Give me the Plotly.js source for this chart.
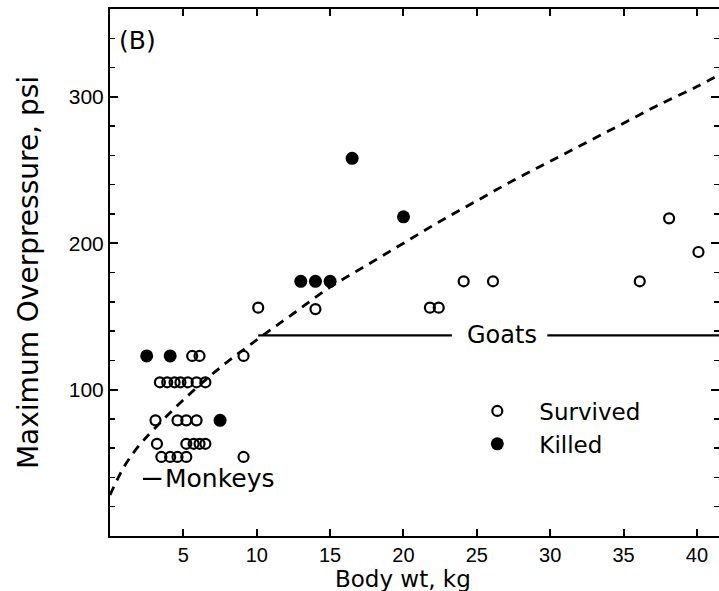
<!DOCTYPE html>
<html>
<head>
<meta charset="utf-8">
<script src="https://cdn.plot.ly/plotly-3.0.1.min.js"></script>
<style>html,body{margin:0;padding:0;background:#fff;}#chart{width:719px;height:591px;}</style>
</head>
<body>
<div id="chart"></div>
<script>
// Survived (open circles)
const survivedX = [5.6, 6.1, 9.1,
  3.4, 3.9, 4.4, 4.8, 5.3, 5.9, 6.5,
  3.1, 4.6, 5.2, 5.9,
  3.2, 5.2, 5.7, 6.1, 6.5,
  3.5, 4.1, 4.6, 5.2, 9.1,
  10.1, 14.0, 21.8, 22.4, 24.1, 26.1, 36.1, 38.1, 40.1];
const survivedY = [123, 123, 123,
  105, 105, 105, 105, 105, 105, 105,
  79, 79, 79, 79,
  63, 63, 63, 63, 63,
  54, 54, 54, 54, 54,
  156, 155, 156, 156, 174, 174, 174, 217, 194];
// Killed (filled circles)
const killedX = [2.5, 4.1, 7.5, 13.0, 14.0, 15.0, 16.5, 20.0];
const killedY = [123, 123, 79, 174, 174, 174, 258, 218];
// Dashed threshold curve
const curveX = [0, 1, 2, 3, 5, 7.5, 10, 12.5, 15, 17.5, 20, 22.5, 25, 27.5, 30, 32.5, 35, 37.5, 40, 41.5];
const curveY = [28, 48, 62, 73, 93, 115, 134, 152, 170, 185, 200, 215, 229, 243, 256, 269, 282, 295, 307, 315];
// Goats / Monkeys range bars
const goatsLeftX = [10.1, 23.3];
const goatsRightX = [29.8, 41.5];
const goatsY = [137, 137];
const monkeysX = [2.25, 3.5];
const monkeysY = [39, 39];
// Ticks
const xTickVals = [5, 10, 15, 20, 25, 30, 35, 40];
const xTickText = ['5', '10', '15', '20', '25', '30', '35', '40'];
const yTickVals = [100, 200, 300];
const yTickText = ['100', '200', '300'];

const TFONT = 'Liberation Sans, Arial, sans-serif';
const LFONT = 'DejaVu Sans, sans-serif';

const traces = [
  {x: curveX, y: curveY, mode: 'lines', type: 'scatter', line: {color: '#000', width: 2.8, dash: '9px,7px', shape: 'spline'}, showlegend: false, hoverinfo: 'skip'},
  {x: goatsLeftX, y: goatsY, mode: 'lines', type: 'scatter', line: {color: '#000', width: 2.2}, showlegend: false},
  {x: goatsRightX, y: goatsY, mode: 'lines', type: 'scatter', line: {color: '#000', width: 2.2}, showlegend: false},
  {x: monkeysX, y: monkeysY, mode: 'lines', type: 'scatter', line: {color: '#000', width: 2.2}, showlegend: false},
  {x: survivedX, y: survivedY, mode: 'markers', type: 'scatter', name: 'Survived',
   marker: {symbol: 'circle-open', size: 10, color: '#000', line: {width: 2.2, color: '#000'}}},
  {x: killedX, y: killedY, mode: 'markers', type: 'scatter', name: 'Killed',
   marker: {symbol: 'circle', size: 13, color: '#000'}}
];

const layout = {
  width: 719, height: 591,
  margin: {l: 110, r: 0, t: 9, b: 55},
  paper_bgcolor: '#fff', plot_bgcolor: '#fff',
  font: {family: LFONT, color: '#000', size: 20},
  showlegend: true,
  legend: {x: 0.567, y: 0.278, xanchor: 'left', yanchor: 'top', bgcolor: 'rgba(0,0,0,0)', font: {size: 23, family: LFONT}, itemwidth: 74, tracegroupgap: 0},
  xaxis: {
    range: [0, 41.5], tickmode: 'array', tickvals: xTickVals, ticktext: xTickText,
    ticks: 'inside', ticklen: 7, tickwidth: 2, tickcolor: '#000',
    showline: true, linecolor: '#000', linewidth: 2, mirror: 'ticks',
    showgrid: false, zeroline: false,
    tickfont: {size: 20, family: TFONT}
  },
  yaxis: {
    range: [0, 360], tickmode: 'array', tickvals: yTickVals, ticktext: yTickText,
    ticks: 'inside', ticklen: 8, tickwidth: 2, tickcolor: '#000',
    showline: true, linecolor: '#000', linewidth: 2, mirror: 'ticks',
    showgrid: false, zeroline: false,
    minor: {tickmode: 'linear', tick0: 0, dtick: 20, ticks: 'inside', ticklen: 5, tickwidth: 1.5, tickcolor: '#000', showgrid: false},
    tickfont: {size: 21, family: TFONT},
    title: {text: 'Maximum Overpressure, psi', font: {size: 28, family: LFONT}, standoff: 22}
  },
  annotations: [
    {xref: 'x', yref: 'paper', x: 20, y: -0.1085, xanchor: 'center', yanchor: 'bottom', text: 'Body wt, kg', showarrow: false, borderpad: 0, font: {size: 23, family: LFONT}},
    {xref: 'paper', yref: 'paper', x: 0.012, y: 0.94, xanchor: 'left', yanchor: 'middle', text: '(B)', showarrow: false, font: {size: 25, family: LFONT}},
    {x: 26.7, y: 137, xref: 'x', yref: 'y', text: 'Goats', showarrow: false, font: {size: 24, family: LFONT}},
    {x: 3.6, y: 39, xref: 'x', yref: 'y', xanchor: 'left', text: 'Monkeys', showarrow: false, font: {size: 25, family: LFONT}}
  ]
};

Plotly.newPlot('chart', traces, layout, {displayModeBar: false, staticPlot: true});
</script>
</body>
</html>
